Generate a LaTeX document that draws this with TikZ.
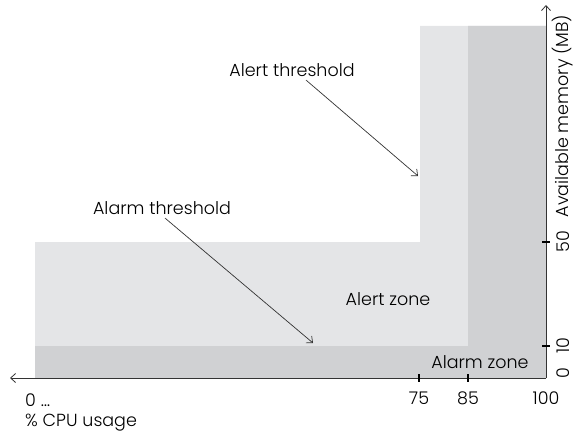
\documentclass[tikz,border=0pt]{standalone}
\usepackage{fontspec}
\setmainfont{Poppins}[UprightFont=* Light]
\usetikzlibrary{arrows.meta}
\definecolor{AlertGray}{RGB}{228,229,231}
\definecolor{AlarmGray}{RGB}{208,209,211}

\begin{document}
\begin{tikzpicture}[x=1pt, y=-1pt, font=\fontsize{17.5}{20}\selectfont,
    >={Straight Barb[length=5pt,width=9pt]}]
  \useasboundingbox (0,0) rectangle (575,436);

  % Origin of the axes (they run from the right-hand corner)
  \coordinate (O) at (546,378);
  \coordinate (xEnd) at (10,378);
  \coordinate (yEnd) at (546,5);

  % Alert zone (light) and alarm zone (dark)
  \fill[AlertGray] (35,378) -- (35,242) -- (420,242) -- (420,26) -- (546,26) -- (546,378) -- cycle;
  \fill[AlarmGray] (35,378) -- (35,346) -- (468,346) -- (468,26) -- (546,26) -- (546,378) -- cycle;

  % Axes
  \draw[->, line width=0.8pt, black!80] (O) -- (xEnd);
  \draw[->, line width=0.8pt, black!80] (O) -- (yEnd);

  % CPU ticks
  \foreach \x/\lbl in {419/75, 468/85} {
    \draw[line width=2pt] (\x,374) -- (\x,382);
    \node (cpu\lbl) at (\x,398) {\lbl};
  }
  \node (cpu100) at (546,398) {100};
  \node[anchor=west, inner sep=0pt] (cpu0) at (25,400) {0 \dots};
  \node[anchor=west, inner sep=0pt] (cpuLabel) at (25,423) {\% CPU usage};

  % Memory ticks
  \foreach \y/\lbl in {346/10, 242/50} {
    \draw[line width=2pt] (542,\y) -- (550,\y);
    \node[rotate=90, inner sep=0pt] (mem\lbl) at (563,\y) {\lbl};
  }
  \node[rotate=90, inner sep=0pt] (mem0) at (563,373) {0};
  \node[rotate=90, inner sep=0pt] (memLabel) at (563,116) {Available memory (MB)};

  % Zone names
  \node (alertZone) at (388,299) {Alert zone};
  \node (alarmZone) at (480,362) {Alarm zone};

  % Thresholds
  \node (alertThr) at (292,70) {Alert threshold};
  \coordinate (alertTip) at (418,176);
  \draw[->, line width=0.7pt, black!80] ([xshift=14pt]alertThr.south) -- (alertTip);

  \node (alarmThr) at (162,208) {Alarm threshold};
  \coordinate (alarmTip) at (313,343);
  \draw[->, line width=0.7pt, black!80] ([xshift=3pt]alarmThr.south) -- (alarmTip);
\end{tikzpicture}
\end{document}
